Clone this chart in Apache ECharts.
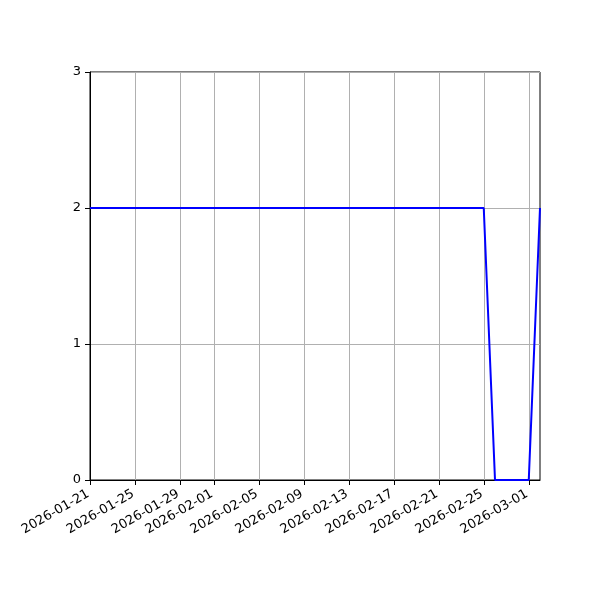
<!DOCTYPE html>
<html>
<head>
<meta charset="utf-8">
<script src="https://cdn.jsdelivr.net/npm/echarts@6/dist/echarts.min.js"></script>
<style>html,body{margin:0;padding:0;background:#fff;}#c{width:600px;height:600px;}</style>
</head>
<body>
<div id="c"></div>
<script>
const dates = [
  '2026-01-21','2026-01-22','2026-01-23','2026-01-24','2026-01-25','2026-01-26','2026-01-27','2026-01-28','2026-01-29','2026-01-30','2026-01-31',
  '2026-02-01','2026-02-02','2026-02-03','2026-02-04','2026-02-05','2026-02-06','2026-02-07','2026-02-08','2026-02-09','2026-02-10',
  '2026-02-11','2026-02-12','2026-02-13','2026-02-14','2026-02-15','2026-02-16','2026-02-17','2026-02-18','2026-02-19','2026-02-20',
  '2026-02-21','2026-02-22','2026-02-23','2026-02-24','2026-02-25','2026-02-26','2026-02-27','2026-02-28','2026-03-01','2026-03-02'
];
const values = [
  2,2,2,2,2,2,2,2,2,2,2,
  2,2,2,2,2,2,2,2,2,2,
  2,2,2,2,2,2,2,2,2,2,
  2,2,2,2,2,0,0,0,0,2
];
const tickLabels = ['2026-01-21','2026-01-25','2026-01-29','2026-02-01','2026-02-05','2026-02-09','2026-02-13','2026-02-17','2026-02-21','2026-02-25','2026-03-01'];
const yTicks = [0, 1, 2, 3];

const isTick = (idx, val) => tickLabels.indexOf(dates[idx]) >= 0;
const font = 'DejaVu Sans';
const chart = echarts.init(document.getElementById('c'));
chart.setOption({
  animation: false,
  backgroundColor: '#fff',
  grid: { left: 90, right: 60, top: 72, bottom: 120, show: true, borderColor: '#000', borderWidth: 1, containLabel: false },
  xAxis: {
    type: 'category',
    data: dates,
    boundaryGap: false,
    axisLine: { show: true, lineStyle: { color: '#000', width: 1 } },
    axisTick: { show: true, interval: isTick, length: 5, inside: false, lineStyle: { color: '#000' } },
    axisLabel: {
      interval: isTick, rotate: 30, fontSize: 13, color: '#000', fontFamily: font, margin: 12,
      padding: [0, 2, 0, 0]
    },
    splitLine: { show: true, interval: isTick, lineStyle: { color: '#b0b0b0', width: 1 } }
  },
  yAxis: {
    type: 'value',
    min: yTicks[0], max: yTicks[yTicks.length - 1], interval: 1,
    axisLine: { show: true, lineStyle: { color: '#000', width: 1 } },
    axisTick: { show: true, length: 5, lineStyle: { color: '#000' } },
    axisLabel: { fontSize: 13, color: '#000', fontFamily: font, margin: 9 },
    splitLine: { show: true, lineStyle: { color: '#b0b0b0', width: 1 } }
  },
  series: [{
    type: 'line',
    data: values,
    showSymbol: false,
    lineStyle: { color: '#0000ff', width: 2 },
    itemStyle: { color: '#0000ff' },
    z: 5
  }]
});
</script>
</body>
</html>
